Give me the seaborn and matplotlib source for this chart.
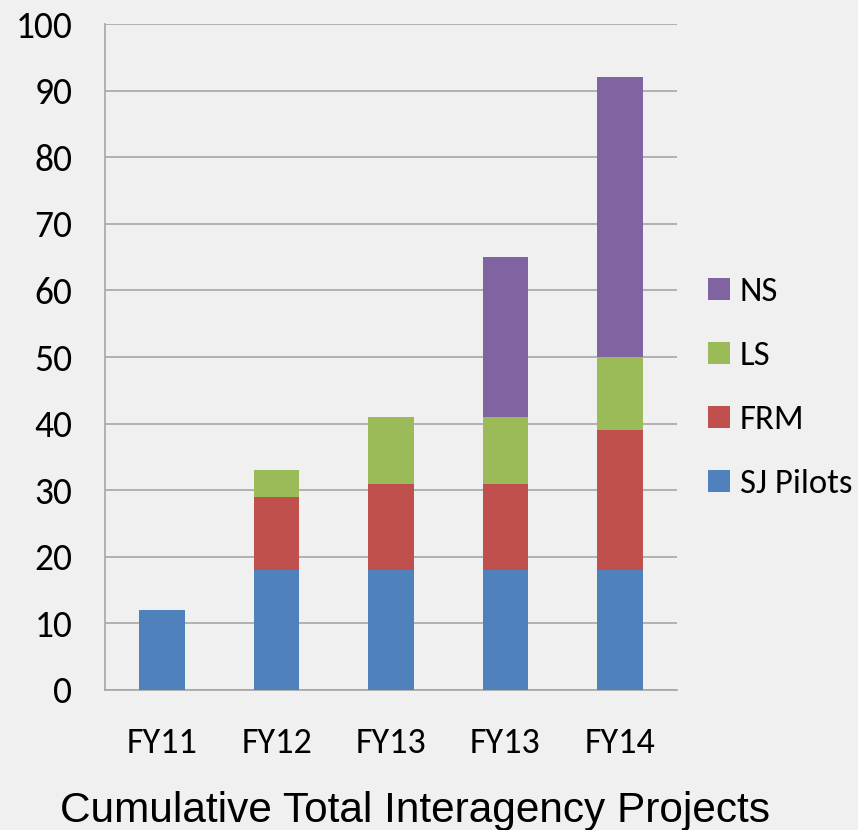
import numpy as np
import pandas as pd
import seaborn as sns
import matplotlib.pyplot as plt

# data
years = ["FY11", "FY12", "FY13", "FY13", "FY14"]
sj_pilots = [12, 18, 18, 18, 18]
frm = [0, 11, 13, 13, 21]
ls = [0, 4, 10, 10, 11]
ns = [0, 0, 0, 24, 42]

series_names = ["SJ Pilots", "FRM", "LS", "NS"]
series_colors = ["#4F81BD", "#C0504D", "#9BBB59", "#8064A2"]

sns.set_style("white")
plt.rcParams["font.family"] = ["Carlito", "DejaVu Sans"]
plt.rcParams["text.color"] = "black"
plt.rcParams["xtick.color"] = "#A6A6A6"
plt.rcParams["ytick.color"] = "#A6A6A6"
plt.rcParams["xtick.labelcolor"] = "black"
plt.rcParams["ytick.labelcolor"] = "black"

# stack the series: cumulative tops per bar
df = pd.DataFrame({"pos": range(len(years)), "SJ Pilots": sj_pilots, "FRM": frm, "LS": ls, "NS": ns})
cum = df[series_names].cumsum(axis=1)

bg = "#F0F0F0"
fig = plt.figure(figsize=(8.58, 8.30), dpi=100, facecolor=bg)
ax = fig.add_axes([0.1224, 0.1687, 0.789 - 0.1224, 0.971 - 0.1687])
ax.set_facecolor(bg)

# draw tallest cumulative first so lower segments sit on top
for name, color in reversed(list(zip(series_names, series_colors))):
  sns.barplot(x=df["pos"], y=cum[name], color=color, width=0.4, saturation=1,
              linewidth=0, edgecolor="none", ax=ax, zorder=3, label=name)

ax.set_xlim(-0.5, len(years) - 0.5)
ax.set_ylim(0, 100)
ax.set_yticks(np.arange(0, 101, 10))
ax.yaxis.grid(True, color="#A6A6A6", linewidth=1.2, zorder=0)
ax.set_xticks(range(len(years)))
ax.set_xticklabels(years)
ax.set_xticks(np.arange(-0.5, len(years)), minor=True)
ax.tick_params(axis="x", which="major", length=0, pad=27, labelsize=26)
ax.tick_params(axis="x", which="minor", length=9.5, width=1.2)
ax.tick_params(axis="y", length=7.5, width=1.2, labelsize=27, pad=16)
for s in ["top", "right"]:
  ax.spines[s].set_visible(False)
for s in ["left", "bottom"]:
  ax.spines[s].set_color("#A6A6A6")
  ax.spines[s].set_linewidth(1.2)
ax.set_xlabel("")
ax.set_ylabel("")

# legend: NS on top, SJ Pilots at bottom
handles, labels = ax.get_legend_handles_labels()
ax.legend(handles, labels, loc="center left", bbox_to_anchor=(1.03, 0.453),
          frameon=False, fontsize=25, handlelength=0.62, handleheight=0.62,
          labelspacing=0.98, handletextpad=0.3, borderaxespad=0)

fig.text(0.484, 8 / 830, "Cumulative Total Interagency Projects", ha="center", va="baseline",
         fontsize=30.5, family=["Liberation Sans", "DejaVu Sans"])

fig.savefig("out.png", dpi=100, facecolor=bg)
